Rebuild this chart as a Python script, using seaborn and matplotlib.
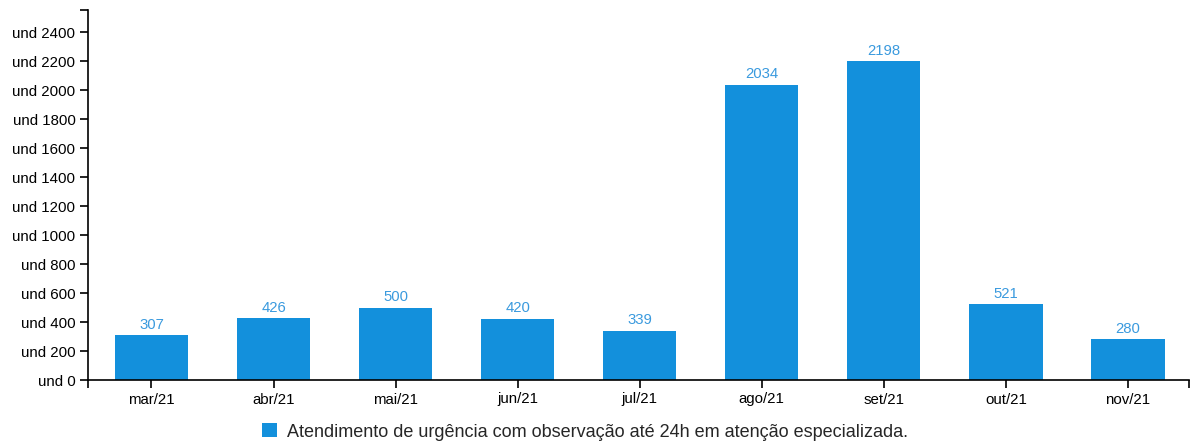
import matplotlib
matplotlib.use("Agg")
import matplotlib.pyplot as plt
import seaborn as sns
import pandas as pd

months = ["mar/21", "abr/21", "mai/21", "jun/21", "jul/21", "ago/21", "set/21", "out/21", "nov/21"]
values = [307, 426, 500, 420, 339, 2034, 2198, 521, 280]
series_name = "Atendimento de urgência com observação até 24h em atenção especializada."
yticks = list(range(0, 2401, 200))

bar_color = "#1390dc"
label_color = "#3a9ade"

sns.set_theme(style="white")
plt.rcParams["font.family"] = ["Liberation Sans", "DejaVu Sans"]

df = pd.DataFrame({"month": months, "value": values})

fig = plt.figure(figsize=(11.91, 4.45), dpi=100)
ax = fig.add_axes([88/1191, 65/445, 1101/1191, 370/445])

sns.barplot(data=df, x="month", y="value", color=bar_color, width=0.6,
            saturation=1, ax=ax, edgecolor="none")

ax.set_xlim(-0.52, len(months) - 0.5)
ax.set_ylim(0, 2552)
ax.set_yticks(yticks)
ax.set_yticklabels([f"und {v}" for v in yticks])
ax.set_xlabel("")
ax.set_ylabel("")

for sp in ["top", "right"]:
    ax.spines[sp].set_visible(False)
for sp in ["left", "bottom"]:
    ax.spines[sp].set_color("black")
    ax.spines[sp].set_linewidth(1.2)

ax.tick_params(axis="both", which="both", direction="out", length=6, width=1.2,
               color="black", labelsize=10.8, labelcolor="black",
               bottom=True, left=True)
ax.tick_params(axis="x", pad=3)
ax.tick_params(axis="y", pad=3)
# outer ticks at domain ends (d3 style)
ax.set_xticks([-0.52, len(months) - 0.5], minor=True)
ax.set_yticks([2552], minor=True)
ax.tick_params(which="minor", length=6, width=1.2, color="black",
               bottom=True, left=True, labelleft=False, labelbottom=False)
ax.grid(False)

for i, v in enumerate(values):
    ax.text(i, v + 25, str(v), ha="center", va="bottom", fontsize=10.7, color=label_color)

from matplotlib.patches import Patch
leg = fig.legend(handles=[Patch(facecolor=bar_color, edgecolor="none", label=series_name)],
                 loc="center", bbox_to_anchor=(585/1191, 1 - 432/445), frameon=False,
                 fontsize=13, handlelength=0.78, handleheight=0.78, handletextpad=0.55,
                 borderaxespad=0)

fig.savefig("out.png", dpi=100)
